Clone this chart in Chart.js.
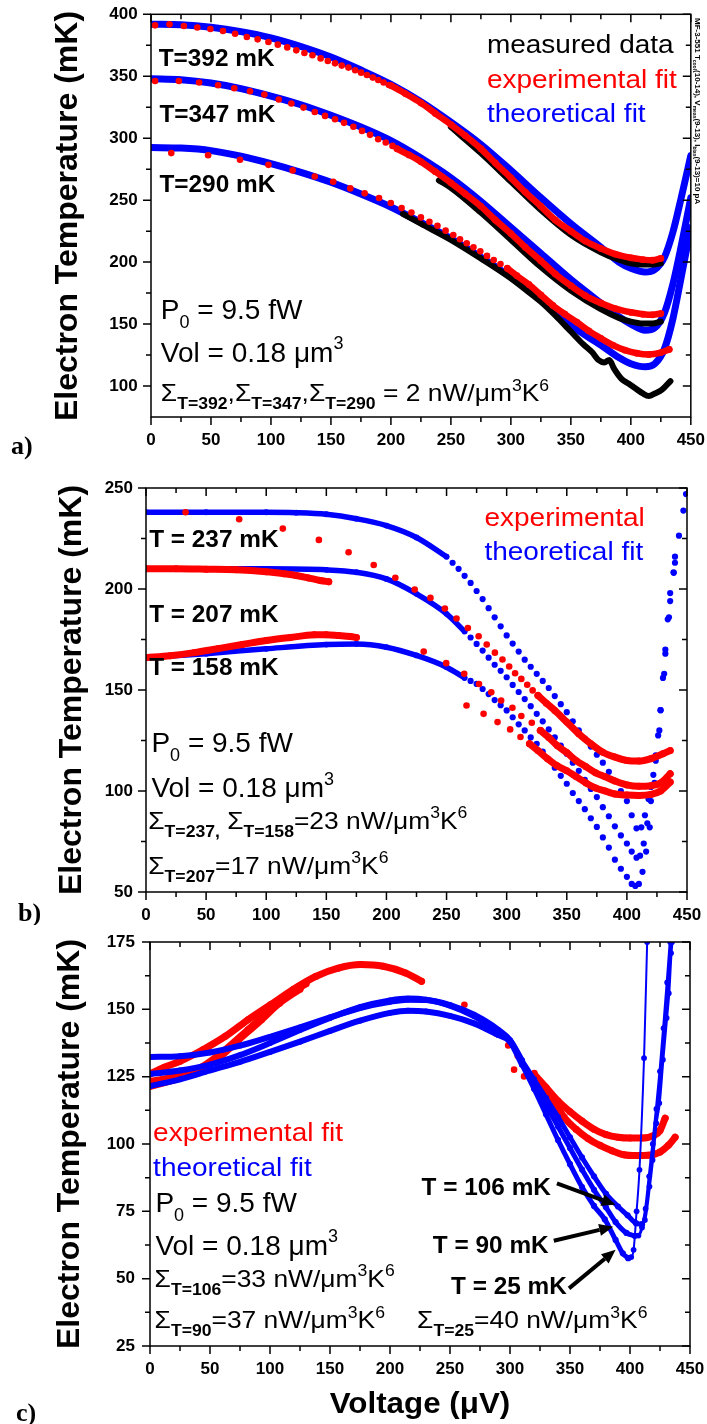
<!DOCTYPE html>
<html><head><meta charset="utf-8">
<script src="https://cdn.jsdelivr.net/npm/chart.js@4.4.1/dist/chart.umd.min.js"></script>
<style>
html,body{margin:0;padding:0;background:#fff;}
body{width:707px;height:1424px;position:relative;overflow:hidden;}
canvas{position:absolute;left:0;display:block;}
</style></head><body>
<canvas id="ca" width="707" height="460" style="top:0px"></canvas>
<canvas id="cb" width="707" height="465" style="top:460px"></canvas>
<canvas id="cc" width="707" height="499" style="top:925px"></canvas>
<script>
// ---------------- tick labels ----------------
const xTicks = [0,50,100,150,200,250,300,350,400,450];
const aYTicks = [100,150,200,250,300,350,400];
const bYTicks = [50,100,150,200,250];
const cYTicks = [25,50,75,100,125,150,175];

// ---------------- panel a ----------------
const aTheo392 = [[0,392],[25,391.5],[50,389.5],[75,386],[100,381],[125,374],[150,365.5],[175,355],[200,343.5],[225,329.5],[250,313],[275,295],[300,274],[325,252],[350,231],[375,212],[390,200],[400,195],[412,192],[420,194],[428,204],[435,224],[442,252],[450,286]];
const aTheo347 = [[0,348],[25,347.2],[50,344.5],[75,340],[100,334],[125,327],[150,318.5],[175,309],[200,298],[225,284],[250,268],[275,249],[300,228],[325,207],[350,186],[375,167],[390,156],[400,150],[412,145],[420,147],[428,159],[435,182],[442,213],[450,252]];
const aTheo290 = [[0,292.5],[25,292],[50,290],[75,285.5],[100,279.5],[125,272.5],[150,264.5],[175,255],[200,244.5],[225,232],[250,219],[275,204],[300,188],[325,170],[350,149],[375,133],[390,123],[400,118],[412,115.5],[420,118],[428,130],[435,154],[442,188],[450,228]];
const aMeas392 = [[250,309],[275,288],[300,265],[325,242],[350,222],[375,208],[390,202],[400,199],[410,198],[418,198],[425,199]];
const aMeas347 = [[240,266],[250,260],[275,240],[300,218],[325,196],[350,177],[375,162],[390,155],[400,152],[410,150.5],[418,150.5],[425,152]];
const aMeas290 = [[210,239],[225,231],[250,218],[275,203],[300,187],[312,178],[325,168],[337,157],[350,144],[360,134],[368,127],[373,121],[378,119],[382,121],[386,114],[392,106],[398,102],[404,98],[410,94],[415,92],[420,94],[426,97],[433,104]];
const aExp392Sparse = [[3.4,391.1],[15.4,391.9],[27.4,390.5],[38.6,389.4],[49.5,388.1],[60,386.5],[70.1,384.3],[79.9,381.7],[88.9,379.8],[97.9,377.6],[105.7,375.5],[113.6,373.3],[121.1,370.9],[127.9,368.8],[134.6,366.9],[141.4,364.4],[147.4,362.3],[153.4,360.4],[159,358.6],[164.6,357],[170.2,354.8],[175.1,352.9],[180,351],[184.9,348.9],[189.4,347],[193.9,344.9],[198.4,343]];
const aExp392Dense = [[200,342.5],[212,336],[225,328.5],[237,320],[250,311],[262,302],[275,291.5],[287,280],[300,268],[312,256.5],[325,245],[337,234],[350,225],[362,217],[375,211],[387,206.5],[400,203.5],[410,202],[418,201.5],[425,203]];
const aExp347Sparse = [[3.4,346.2],[23.2,346.2],[40.1,344.9],[55.9,342.7],[69.4,340.3],[82.5,337.9],[94.5,335.2],[106.5,331.2],[117,328],[127.1,324.7],[136.5,321.2],[145.1,318],[153.4,315.3],[160.9,312.4],[168.7,309.2],[175.9,305.9],[182.6,302.7],[189.4,299.2],[195.7,296.5],[201.3,293.8]];
const aExp347Dense = [[205,291.5],[215,286.5],[225,281],[237,273],[250,264],[262,255],[275,245],[287,234],[300,223],[312,212],[325,201],[337,190.5],[350,181],[362,173],[375,167],[387,162.5],[400,159.5],[410,158],[418,157.5],[425,158.5]];
const aExp290Sparse = [[16.9,288],[47.6,286.3],[74.2,282.6],[97.9,278.5],[118.1,274],[136.5,269.1],[151.9,264.9],[166.1,259.5],[178.1,255.5],[190.1,251.7],[199.9,247.7],[208.9,243.6],[217.1,240.1],[225,236.1],[232.1,232.6],[238.8,229.4],[245.6,225.4],[252,221.9],[257.6,218.4],[263.2,215.2],[268.8,211.9],[274.5,208.7],[280.1,205],[285.7,201.7],[291.3,198.5],[297,195]];
const aExp290Dense = [[297,195],[305,189],[315,182],[325,173.5],[335,165],[345,158],[355,151.5],[365,144.5],[375,138.5],[385,133],[395,129],[405,126.5],[415,125.5],[425,127],[432,129.5]];

// ---------------- panel b ----------------
const bTheo237Dense = [[0,238],[50,238],[100,238],[125,237.8],[150,237],[175,234.8],[200,231.4],[225,225.5],[250,216]];
const bTheo237Dots = [[255,213],[260,210],[265,206.5],[270,203],[275,199],[280,195],[285,190.5],[290,186],[295,181.5],[300,177],[305,173],[310,169],[315,165],[320,161.5],[325,158],[330,154.5],[335,151],[340,147],[345,143],[350,139],[355,134.5],[360,130],[365,126],[370,122],[375,118],[380,114],[385,109.5],[390,105],[395,100],[400,95],[404,88],[408,81.5],[412,82],[415,88],[418,96],[420,102],[422,108],[424,117.6],[426,127.5],[428,140],[430,156],[432,170],[434,185],[436,198],[438.8,208.3],[440,216],[443.3,226.4],[447,238.8],[449.2,247]];
const bTheo207Dense = [[0,210],[50,210],[100,210],[150,209.5],[175,208.3],[200,205],[225,197.6],[250,187.7],[265,179]];
const bTheo207Dots = [[270,176],[275,172.8],[280,169.5],[285,166],[290,162.5],[295,159.5],[300,156.3],[305,152.5],[310,149],[315,145.5],[320,142],[325,138.2],[330,134.5],[335,130.5],[340,126.5],[345,122.5],[350,118.4],[355,114],[360,110],[365,105.5],[370,101],[375,97],[380,92],[385,87.5],[390,82.5],[395,78],[400,74],[404,70],[408,67],[411,68],[414,74],[417,84],[420,95],[424,115],[428,140],[432,168],[436,194],[440,213]];
const bTheo158Dense = [[0,166],[50,168],[100,170.4],[150,172.5],[175,172.8],[200,171.2],[225,167.1],[250,161.3],[265,156]];
const bTheo158Dots = [[270,154.5],[275,153],[280,150.5],[285,148],[290,145],[295,142.5],[300,139.9],[305,136.5],[310,133],[315,130],[320,126.5],[325,123.4],[330,119.5],[335,115.5],[340,111.5],[345,107.5],[350,103.6],[355,99],[360,95],[365,91],[370,86.5],[375,82.2],[380,77],[385,72],[390,66],[395,61.5],[400,57.5],[404,54],[407,53],[410,54],[413,60],[416,70],[419,82],[423,104],[427,130],[431,158],[435,186],[439,208]];
const bExp237Sparse = [[32.9,238],[77.5,234.5],[113.8,229.9],[143.8,224.3],[168.5,218.2],[189.4,211.9],[207.4,205.6],[223.5,199.7],[236.6,195.6],[248.6,190.3],[258.3,185.4],[267.7,180.7],[276.7,176.6],[283.4,172.5],[290.2,168.5],[296.5,165.1],[302.1,161.6],[307,158.3],[312.2,155.5],[317.1,152.6],[321.6,149.8],[326.1,147.3]];
const bExp237Dense = [[326,147.3],[333,143.5],[340,139.9],[350,134.1],[360,128.3],[370,123.4],[380,119.2],[390,116.8],[400,115.1],[410,114.8],[420,116],[430,118.4],[436,120]];
const bExp207Start = [[0,210],[25,210],[50,209.8],[75,209.5],[100,208.5],[115,207.5],[125,206.7],[135,205.5],[145,204.2],[152,203.6]];
const bExp158Start = [[0,166],[20,167],[40,168.5],[60,170.5],[80,172.5],[100,174.5],[120,176],[140,177.3],[150,177.4],[160,177],[170,176.5],[175,176]];
const bExpMidSparse = [[231,169],[249.7,163.3],[264.7,158],[277,153],[287.2,148.9],[295.4,144.8],[304.8,141.2],[312.2,137.1],[320.9,133.8],[328.3,130]];
const bExpMidDense = [[328,130],[335,126.5],[342,122.5],[350,119],[358,115],[366,112],[374,109],[382,107],[390,105],[400,103],[410,102.3],[420,102.6],[428,104],[436,108.5]];
const bExpLowSparse = [[266.6,142.3],[280.8,138.2],[292.4,134.1],[302.9,130.5],[311.5,126.7],[319,123.4]];
const bExpLowDense = [[319,123.4],[326,120],[334,116],[342,112.5],[350,110],[358,107],[366,104],[374,101.5],[382,100],[390,98.5],[400,98],[410,97.8],[420,98.3],[428,100],[436,104.4]];

// ---------------- panel c ----------------
const cTheo106Dense = [[0,132.3],[25,132.6],[50,134],[75,136.5],[100,139.8],[125,143.3],[150,147],[175,150.5],[200,152.8],[215,153.6],[230,153.5],[250,151.6],[270,148],[290,142.5],[300,138.5],[310,131]];
const cTheo106Dots = [[310,131],[320,124],[330,117],[340,110],[350,102.5],[360,95],[370,88],[380,81.5],[390,76.8],[398,73.5],[405,70.6],[410,70.2]];
const cTheo106Rise = [[410,70.2],[412.4,71.8],[416.2,84.2],[418.8,94.1],[421.8,107.7],[424.4,115.2],[427.4,131.3],[430.5,146.8],[432.3,156],[434.2,170.9],[435,175]];
const cTheo90Dense = [[0,126],[25,127.3],[50,129.5],[75,133],[100,137.5],[125,142.3],[150,146.8],[175,150.8],[200,153.3],[215,154],[230,153.6],[250,151.4],[270,147.5],[290,142],[300,138.5],[310,130.5]];
const cTheo90Dots = [[310,130.5],[320,122.5],[330,114.5],[340,106.5],[350,98.5],[360,90.5],[370,83],[380,76.5],[388,71],[397,67],[404,65.9]];
const cTheo90Rise = [[404,65.9],[407,66],[410,69],[413,76],[416,88],[419,100],[422,113],[425,127],[428,143],[431,160],[433.5,175]];
const cTheo25Dense = [[0,121.5],[25,124],[50,127.3],[75,130.5],[100,134.2],[125,138],[150,142],[175,145.8],[200,148.7],[215,149.5],[230,149.2],[250,147.6],[270,144.8],[290,140.5],[300,138],[310,129.5]];
const cTheo25Dots = [[310,129.5],[320,120.5],[330,111],[340,101.5],[350,92.5],[360,84],[370,77],[379,72],[388,64.4],[394,59.4],[398.5,57.6]];
const cTheo25Rise = [[398.5,57.6],[401,58],[403,60.7],[405.5,75],[407.9,90.4],[411.7,131.9],[414.3,175]];
const cExpUpper = [[0,126],[12,128.5],[25,130.7],[44,135],[62.8,140],[81.6,146.1],[100.4,151.7],[119,157.3],[138,162.2],[156.8,165.3],[175.6,166.6],[194.4,166],[213,163.5],[226.3,160.4]];
const cExpLower1 = [[0,121.4],[25,124.5],[44,128.8],[62.8,135],[81.6,142.4],[100.4,149.9],[115.4,155.4],[130,159.5]];
const cExpLower2 = [[0,123.2],[32.7,126.3],[55.3,131.3],[74,138.7],[92.9,146.1],[108,152.3],[125,157.5]];
const cExpSparse = [[262,151.7],[276.3,146.1],[288.3,141],[298.5,136.6],[303.4,127.6],[306.4,132.8],[311.7,125.1],[320.3,126.3],[327.8,121.6]];
const cExpRightUpper = [[320,126],[330,121],[340,116],[350,112],[360,108.5],[370,105.5],[380,103.5],[390,102.5],[400,102.2],[410,102.2],[420,103.2],[425,105],[429.3,109.6]];
const cExpRightLower = [[327,121.6],[335,117],[345,110],[355,105.5],[365,102],[375,99.5],[385,97.5],[395,96],[405,95.7],[415,95.8],[425,97],[432,99.5],[437.6,102.5]];

// ---------------- styling / helpers ----------------
const F = '"Liberation Sans", Arial, Helvetica, sans-serif';
const FSERIF = '"Liberation Serif", "Times New Roman", serif';
const RED = '#ff0000', BLUE = '#0000ff', BLACK = '#000000';

function P(arr){ return arr.map(p => ({x:p[0], y:p[1]})); }
function lineDS(d, c, w, r, o){
  return {data:P(d), showLine:true, borderColor:c, backgroundColor:c, borderWidth:w,
    pointRadius:r, pointBorderWidth:0, pointHoverRadius:r, cubicInterpolationMode:'monotone',
    order:o, clip:0, borderCapStyle:'round', borderJoinStyle:'round', fill:false};
}
function dotDS(d, c, r, o){
  return {data:P(d), showLine:false, borderColor:c, backgroundColor:c, pointRadius:r,
    pointBorderWidth:0, pointHoverRadius:r, order:o, clip:0};
}

// segs: strings (normal) or [text,'sub'|'sup'|'bsub']
function drawRich(ctx, segs, x, y, size, bold, color, align, sx){
  sx = sx || 1;
  const w = bold ? 'bold ' : '';
  let total = 0;
  const items = segs.map(s => {
    const txt = typeof s === 'string' ? s : s[0];
    const kind = typeof s === 'string' ? 'n' : s[1];
    const fs = kind === 'n' ? size : Math.round(size * 0.66);
    const font = (kind === 'bsub' ? 'bold ' : w) + fs + 'px ' + F;
    ctx.font = font;
    const mw = ctx.measureText(txt).width;
    total += mw;
    return {txt, kind, font, mw};
  });
  ctx.save();
  ctx.translate(x, y);
  ctx.scale(sx, 1);
  let cx = align === 'right' ? -total : (align === 'center' ? -total/2 : 0);
  ctx.fillStyle = color;
  ctx.textAlign = 'left';
  ctx.textBaseline = 'alphabetic';
  const base = size * 0.358;
  items.forEach(it => {
    ctx.font = it.font;
    const dy = (it.kind === 'sub' || it.kind === 'bsub') ? size * 0.32 : (it.kind === 'sup' ? -size * 0.45 : 0);
    ctx.fillText(it.txt, cx, base + dy);
    cx += it.mw;
  });
  ctx.restore();
}

const mu = '\u03bc', SIG = '\u03a3';
const LBL = {size:28, sx:1.0};      // P0 / Vol lines
const LEG = {size:25, sx:1.12};     // legend words
const SGM = {size:24, sx:1.1};      // Sigma lines
const TLB = {size:23, sx:1.06};     // bold T labels
function T(s, x, y, st, color, bold){ return {s, x, y, size:st.size, sx:st.sx, color, bold:!!bold}; }

const DECO = {
  ca: {
    yTicks: aYTicks, yTitle:{x:68.5, y:216}, letter:{t:'a)', x:11, y:447}, note:true,
    texts: [
      T(['T=392 mK'], 6.4, 365, TLB, BLACK, true),
      T(['T=347 mK'], 7, 319.4, TLB, BLACK, true),
      T(['T=290 mK'], 7, 263, TLB, BLACK, true),
      T(['measured data'], 280, 375.8, LEG, BLACK),
      T(['experimental fit'], 280, 347.6, LEG, RED),
      T(['theoretical fit'], 280, 320.7, LEG, BLUE),
      T(['P',['0','sub'],' = 9.5 fW'], 8.2, 162.3, LBL, BLACK),
      T(['Vol = 0.18 '+mu+'m',['3','sup']], 8.2, 127.4, LBL, BLACK),
      T([SIG,['T=392','bsub'],',',SIG,['T=347','bsub'],',',SIG,['T=290','bsub'],' = 2 nW/'+mu+'m',['3','sup'],'K',['6','sup']], 8.2, 94.5, SGM, BLACK)
    ], arrows:[]
  },
  cb: {
    yTicks: bYTicks, yTitle:{x:72, y:230}, letter:{t:'b)', x:18, y:454},
    texts: [
      T(['experimental'], 281.5, 235.5, LEG, RED),
      T(['theoretical fit'], 281.5, 219, LEG, BLUE),
      T(['T = 237 mK'], 2.6, 224.8, TLB, BLACK, true),
      T(['T = 207 mK'], 2.6, 187.7, TLB, BLACK, true),
      T(['T = 158 mK'], 2.6, 161.3, TLB, BLACK, true),
      T(['P',['0','sub'],' = 9.5 fW'], 4.5, 124.2, LBL, BLACK),
      T(['Vol = 0.18 '+mu+'m',['3','sup']], 4.5, 101.9, LBL, BLACK),
      T([SIG,['T=237,','bsub'],' '+SIG,['T=158','bsub'],'=23 nW/'+mu+'m',['3','sup'],'K',['6','sup']], 1.9, 85.4, SGM, BLACK),
      T([SIG,['T=207','bsub'],'=17 nW/'+mu+'m',['3','sup'],'K',['6','sup']], 1.9, 63.2, SGM, BLACK)
    ], arrows:[]
  },
  cc: {
    yTicks: cYTicks, yTitle:{x:70, y:219}, letter:{t:'c)', x:16, y:489}, xTitle:{x:420, y:478},
    texts: [
      T(['experimental fit'], 2.6, 104.6, LEG, RED),
      T(['theoretical fit'], 2.6, 91.6, LEG, BLUE),
      T(['P',['0','sub'],' = 9.5 fW'], 4.5, 78.6, LBL, BLACK),
      T(['Vol = 0.18 '+mu+'m',['3','sup']], 4.5, 62.5, LBL, BLACK),
      T([SIG,['T=106','bsub'],'=33 nW/'+mu+'m',['3','sup'],'K',['6','sup']], 3.8, 50.1, SGM, BLACK),
      T([SIG,['T=90','bsub'],'=37 nW/'+mu+'m',['3','sup'],'K',['6','sup']], 3.8, 34.7, SGM, BLACK),
      T([SIG,['T=25','bsub'],'=40 nW/'+mu+'m',['3','sup'],'K',['6','sup']], 222.6, 34.7, SGM, BLACK),
      T(['T = 106 mK'], 226.3, 84.2, TLB, BLACK, true),
      T(['T = 90 mK'], 235.7, 62.5, TLB, BLACK, true),
      T(['T = 25 mK'], 250.8, 47.3, TLB, BLACK, true)
    ],
    arrows: [
      {from:[339.1,85.4], to:[388,77.4]},
      {from:[336.5,64.1], to:[386,69.3]},
      {from:[349.2,46.4], to:[388,60.7]}
    ]
  }
};

function mids(arr){ const m=[]; for(let i=0;i<arr.length-1;i++) m.push((arr[i]+arr[i+1])/2); return m; }

const deco = {
  id: 'deco',
  afterDraw(chart){
    const D = DECO[chart.canvas.id];
    const ctx = chart.ctx, ca = chart.chartArea, xs = chart.scales.x, ys = chart.scales.y;
    ctx.save();
    ctx.strokeStyle = '#000'; ctx.lineWidth = 1.5; ctx.lineCap = 'butt';
    ctx.strokeRect(ca.left, ca.top, ca.right - ca.left, ca.bottom - ca.top);
    const MAJ = 8, MIN = 5;
    const xMin = mids(xTicks), yMin = mids(D.yTicks);
    ctx.beginPath();
    const xt = (v, len) => { const p = xs.getPixelForValue(v);
      ctx.moveTo(p, ca.bottom); ctx.lineTo(p, ca.bottom + len);
      ctx.moveTo(p, ca.top); ctx.lineTo(p, ca.top + len); };
    const yt = (v, len) => { const p = ys.getPixelForValue(v);
      ctx.moveTo(ca.left - len, p); ctx.lineTo(ca.left, p);
      ctx.moveTo(ca.right - len, p); ctx.lineTo(ca.right, p); };
    xTicks.forEach(v => xt(v, MAJ)); xMin.forEach(v => xt(v, MIN));
    D.yTicks.forEach(v => yt(v, MAJ)); yMin.forEach(v => yt(v, MIN));
    ctx.stroke();

    D.texts.forEach(t => drawRich(ctx, t.s, xs.getPixelForValue(t.x), ys.getPixelForValue(t.y), t.size, t.bold, t.color, 'left', t.sx));

    D.arrows.forEach(a => {
      const x1 = xs.getPixelForValue(a.from[0]), y1 = ys.getPixelForValue(a.from[1]);
      const x2 = xs.getPixelForValue(a.to[0]), y2 = ys.getPixelForValue(a.to[1]);
      const ang = Math.atan2(y2 - y1, x2 - x1), L = 14, W = 6;
      const bx = x2 - L*Math.cos(ang), by = y2 - L*Math.sin(ang);
      ctx.strokeStyle = '#000'; ctx.lineWidth = 4;
      ctx.beginPath(); ctx.moveTo(x1, y1); ctx.lineTo(bx, by); ctx.stroke();
      ctx.fillStyle = '#000'; ctx.beginPath();
      ctx.moveTo(x2, y2);
      ctx.lineTo(bx + W*Math.sin(ang), by - W*Math.cos(ang));
      ctx.lineTo(bx - W*Math.sin(ang), by + W*Math.cos(ang));
      ctx.closePath(); ctx.fill();
    });

    // y-axis title
    ctx.save();
    ctx.translate(D.yTitle.x, D.yTitle.y); ctx.rotate(-Math.PI/2);
    ctx.font = 'bold 32px ' + F; ctx.fillStyle = '#000';
    ctx.textAlign = 'center'; ctx.textBaseline = 'middle';
    ctx.fillText('Electron Temperature (mK)', 0, 0);
    ctx.restore();

    if (D.xTitle) drawRich(ctx, ['Voltage ('+mu+'V)'], D.xTitle.x, D.xTitle.y, 29, true, BLACK, 'center', 1.08);

    ctx.font = 'bold 26px ' + FSERIF; ctx.fillStyle = '#000';
    ctx.textAlign = 'left'; ctx.textBaseline = 'middle';
    ctx.fillText(D.letter.t, D.letter.x, D.letter.y);

    if (D.note){
      ctx.save();
      ctx.translate(698, 18); ctx.rotate(Math.PI/2);
      const segs = ['MF-3-551 T',['cool','sub'],'(10-14), V',['meas','sub'],'(9-13), I',['bias','sub'],'(9-13)=10 pA'];
      drawRich(ctx, segs, 0, 0, 8, true, BLACK, 'left', 1);
      ctx.restore();
    }
    ctx.restore();
  }
};

function build(id, datasets, yMin, yMax, yTicks, g){
  return new Chart(document.getElementById(id), {
    type: 'scatter',
    data: {datasets},
    options: {
      responsive:false, animation:false, devicePixelRatio:1, events:[],
      layout:{padding:{left:0, right:g.padR, top:g.padT, bottom:0}},
      plugins:{legend:{display:false}, tooltip:{enabled:false}},
      scales:{
        x:{type:'linear', position:'bottom', min:0, max:450,
          afterBuildTicks: s => { s.ticks = xTicks.map(v => ({value:v})); },
          afterFit: s => { s.height = g.xH; },
          ticks:{color:'#000', font:{family:F, size:17, weight:'bold', lineHeight:2.5}, padding:2, maxRotation:0, autoSkip:false},
          grid:{display:false, drawTicks:false}, border:{display:false}},
        y:{type:'linear', position:'left', min:yMin, max:yMax,
          afterBuildTicks: s => { s.ticks = yTicks.map(v => ({value:v})); },
          afterFit: s => { s.width = g.yW; },
          ticks:{color:'#000', font:{family:F, size:17, weight:'bold', lineHeight:0.1}, padding:g.yPad, autoSkip:false},
          grid:{display:false, drawTicks:false}, border:{display:false}}
      }
    },
    plugins:[deco]
  });
}

// panel a  (order: lower = drawn on top)
build('ca', [
  dotDS(aExp392Sparse, RED, 3.3, 0), lineDS(aExp392Dense, RED, 6.5, 3.4, 0),
  dotDS(aExp347Sparse, RED, 3.3, 0), lineDS(aExp347Dense, RED, 6.5, 3.4, 0),
  dotDS(aExp290Sparse, RED, 3.3, 0), lineDS(aExp290Dense, RED, 6.5, 3.4, 0),
  lineDS(aMeas392, BLACK, 6, 0, 1), lineDS(aMeas347, BLACK, 6, 0, 1), lineDS(aMeas290, BLACK, 6, 0, 1),
  lineDS(aTheo392, BLUE, 7, 0, 2), lineDS(aTheo347, BLUE, 7, 0, 2), lineDS(aTheo290, BLUE, 7, 0, 2)
], 75, 400, aYTicks, {padR:16, padT:14.3, xH:43, yW:151, yPad:13.3});

// panel b
build('cb', [
  dotDS(bExp237Sparse, RED, 3.3, 0), lineDS(bExp237Dense, RED, 7, 3.5, 0),
  lineDS(bExp207Start, RED, 7, 3.5, 0), lineDS(bExp158Start, RED, 7, 3.5, 0),
  dotDS(bExpMidSparse, RED, 3.3, 0), lineDS(bExpMidDense, RED, 7, 3.5, 0),
  dotDS(bExpLowSparse, RED, 3.3, 0), lineDS(bExpLowDense, RED, 7, 3.5, 0),
  lineDS(bTheo237Dense, BLUE, 5.5, 2.9, 1), dotDS(bTheo237Dots, BLUE, 3.1, 1),
  lineDS(bTheo207Dense, BLUE, 5.5, 2.9, 1), dotDS(bTheo207Dots, BLUE, 3.1, 1),
  lineDS(bTheo158Dense, BLUE, 5.5, 2.9, 1), dotDS(bTheo158Dots, BLUE, 3.1, 1)
], 50, 250, bYTicks, {padR:20, padT:28, xH:33, yW:146, yPad:13});

// panel c
build('cc', [
  lineDS(cTheo106Dense, BLUE, 6, 2.9, 0), lineDS(cTheo106Dots, BLUE, 5, 3.1, 0), lineDS(cTheo106Rise, BLUE, 3, 2.9, 0),
  lineDS(cTheo90Dense, BLUE, 6, 2.9, 0), lineDS(cTheo90Dots, BLUE, 5, 3.1, 0), lineDS(cTheo90Rise, BLUE, 3, 2.9, 0),
  lineDS(cTheo25Dense, BLUE, 6, 2.9, 0), lineDS(cTheo25Dots, BLUE, 5, 3.1, 0), lineDS(cTheo25Rise, BLUE, 2, 2.9, 0),
  lineDS(cExpUpper, RED, 7, 3.5, 1), lineDS(cExpLower1, RED, 7, 3.5, 1), lineDS(cExpLower2, RED, 7, 3.5, 1),
  dotDS(cExpSparse, RED, 3.3, 1), lineDS(cExpRightUpper, RED, 7, 3.5, 1), lineDS(cExpRightLower, RED, 7, 3.5, 1)
], 25, 175, cYTicks, {padR:17, padT:17, xH:78, yW:150, yPad:15});
</script>
</body></html>
